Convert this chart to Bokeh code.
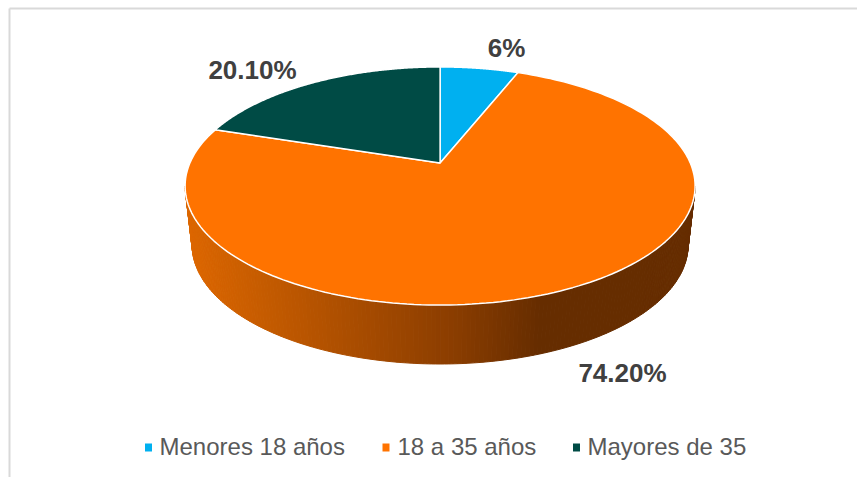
import numpy as np
from bokeh.plotting import figure
from bokeh.models import Range1d
from bokeh.core.properties import value
from bokeh.embed import file_html
from bokeh.resources import INLINE

categories = ["Menores 18 años", "18 a 35 años", "Mayores de 35"]
values = [6.0, 74.2, 20.1]
labels = ["6%", "74.20%", "20.10%"]
colors = ["#00B0F0", "#FF7300", "#004B45"]
side_stops_x = [185, 450, 540, 695]
side_stops_rgb = [(222, 104, 0), (140, 62, 0), (102, 45, 0), (102, 45, 0)]

W, H = 857, 477
p = figure(width=W, height=H, x_range=Range1d(0, W), y_range=Range1d(H, 0),
           toolbar_location=None, output_backend="svg", min_border=0, outline_line_color=None)
p.axis.visible = False
p.grid.visible = False
p.background_fill_color = "white"

# pie projection (perspective of a circle)
CX, CY, A, B, K = 439.6, 162.5, 250.2, 114.6, 0.193
def project(theta):
    u, v = np.sin(theta), np.cos(theta)
    d = 1 + K * v
    return CX + A * u / d, CY - B * v / d

# side wall
ts = np.linspace(0, np.pi, 181)
xs, ys, cs = [], [], []
for t0, t1 in zip(ts[:-1], ts[1:]):
    tx = [439.6 + 255 * np.cos(t0), 439.6 + 255 * np.cos(t1), 439.6 + 248 * np.cos(t1), 439.6 + 248 * np.cos(t0)]
    ty = [185.5 + 119 * np.sin(t0), 185.5 + 119 * np.sin(t1), 244.5 + 119 * np.sin(t1), 244.5 + 119 * np.sin(t0)]
    xm = sum(tx) / 4
    rgb = [int(np.interp(xm, side_stops_x, [s[i] for s in side_stops_rgb])) for i in range(3)]
    xs.append(tx); ys.append(ty); cs.append("#%02x%02x%02x" % tuple(rgb))
p.patches(xs, ys, fill_color=cs, line_color=cs, line_width=1)

# top slices
angles = 2 * np.pi * np.cumsum([0] + values) / sum(values)
for a0, a1, col in zip(angles[:-1], angles[1:], colors):
    th = np.linspace(a0, a1, 200)
    x, y = project(th)
    p.patch(np.r_[CX, x], np.r_[CY, y], fill_color=col, line_color="white", line_width=1.5)

# frame
p.line([9, 9], [H, 8], line_color="#d9d9d9", line_width=2)
p.line([9, W], [8, 8], line_color="#d9d9d9", line_width=2)

# labels
lab_x = [506, 622, 252]
lab_y = [47, 372, 69]
p.text(lab_x, lab_y, text=labels, text_font=value("Liberation Sans"), text_font_style="bold",
       text_font_size="26px", text_color="#404040", text_align="center", text_baseline="middle")

# legend
sw_x = [148, 385.5, 576]
tx_x = [159, 397, 587]
p.rect(sw_x, [447] * 3, width=7, height=8, fill_color=colors, line_color=None)
p.text(tx_x, [446] * 3, text=categories, text_font=value("Liberation Sans"),
       text_font_size="24px", text_color="#595959", text_align="left", text_baseline="middle")

open("out.html", "w").write(file_html(p, INLINE))
